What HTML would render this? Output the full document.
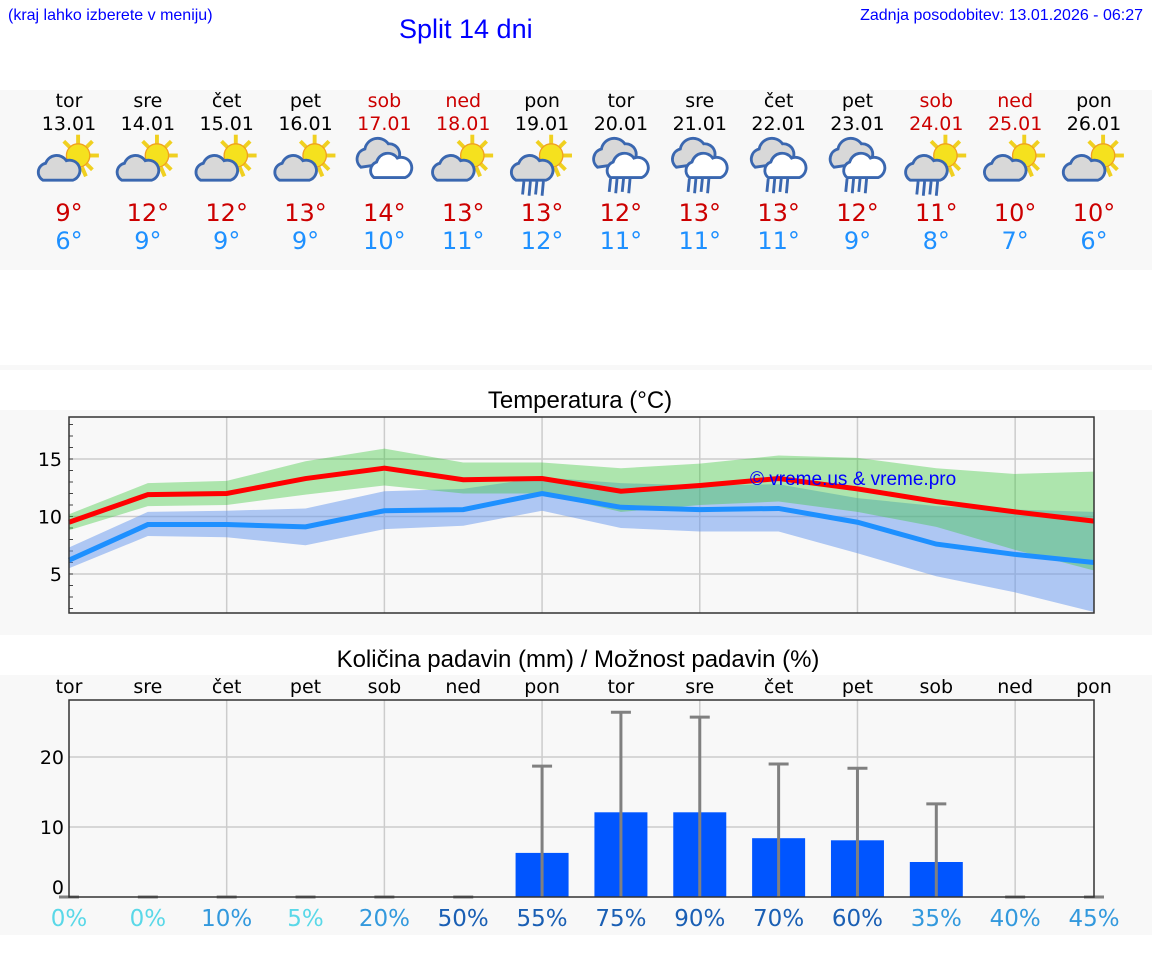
<!DOCTYPE html>
<html><head><meta charset="utf-8">
<style>
body{margin:0;width:1152px;height:975px;background:#fff;font-family:"DejaVu Sans","Liberation Sans",sans-serif;position:relative;overflow:hidden}
.abs{position:absolute}
</style></head>
<body>
<div class="abs" style="left:8px;top:7px;font-size:16px;color:#0000ff;font-family:'Liberation Sans',sans-serif">(kraj lahko izberete v meniju)</div>
<div class="abs" style="left:399px;top:14px;font-size:27px;color:#0000ff;font-family:'Liberation Sans',sans-serif">Split 14 dni</div>
<div class="abs" style="right:9px;top:7px;font-size:16px;color:#0000ff;font-family:'Liberation Sans',sans-serif">Zadnja posodobitev: 13.01.2026 - 06:27</div>
<svg id="main" class="abs" style="left:0;top:0" width="1152" height="975">
<defs>
<g id="sun"><g stroke="#f0d020" stroke-width="3"><line x1="0" y1="-16" x2="0" y2="-9"/><line x1="11" y1="-11" x2="6" y2="-6"/><line x1="16" y1="0" x2="9" y2="0"/><line x1="11" y1="11" x2="6" y2="6"/><line x1="-11" y1="-11" x2="-6" y2="-6"/><line x1="-6" y1="16" x2="-3" y2="9"/><line x1="6" y1="16" x2="3" y2="9"/></g><circle r="9" fill="#f5e11e" stroke="#f0a020" stroke-width="1"/></g>
<g id="cloud"><path d="M-14,8 a7,7 0 0 1 2,-13 a9,9 0 0 1 16,-2 a7,7 0 0 1 5,15 z" fill="#d8d8d8" stroke="#3a67b0" stroke-width="2.2"/></g>
<g id="cloud2"><path d="M-20,4 a8,8 0 0 1 3,-14 a10,10 0 0 1 18,-4 a8,8 0 0 1 6,14 z" fill="#d8d8d8" stroke="#3a67b0" stroke-width="2.2"/><path d="M-10,12 a7,7 0 0 1 2,-12 a9,9 0 0 1 16,-3 a7,7 0 0 1 6,15 z" fill="#fff" stroke="#3a67b0" stroke-width="2.2"/></g>
<g id="rain" stroke="#3a67b0" stroke-width="2.2"><line x1="-8" y1="0" x2="-9" y2="10"/><line x1="-3" y1="0" x2="-4" y2="11"/><line x1="2" y1="0" x2="1" y2="10"/><line x1="7" y1="0" x2="6" y2="11"/></g>
</defs>
<rect x="0" y="90" width="1152" height="180" fill="#f8f8f8"/>
<rect x="0" y="365" width="1152" height="5" fill="#f8f8f8"/>
<rect x="0" y="410" width="1152" height="225" fill="#f8f8f8"/>
<rect x="0" y="675" width="1152" height="260" fill="#f8f8f8"/>
<g id="daily"></g>
<text x="580" y="408" text-anchor="middle" font-size="24" font-family="Liberation Sans,sans-serif">Temperatura (°C)</text>
<g id="temp"></g>
<text x="578" y="667" text-anchor="middle" font-size="24" font-family="Liberation Sans,sans-serif">Količina padavin (mm) / Možnost padavin (%)</text>
<g id="precip"></g>
</svg>
<script>
const dayNames=["tor","sre","čet","pet","sob","ned","pon","tor","sre","čet","pet","sob","ned","pon"];
const dates=["13.01","14.01","15.01","16.01","17.01","18.01","19.01","20.01","21.01","22.01","23.01","24.01","25.01","26.01"];
const weekend=[0,0,0,0,1,1,0,0,0,0,0,1,1,0];
const icons=["sc","sc","sc","sc","cc","sc","scr","ccr","ccr","ccr","ccr","scr","sc","sc"];
const maxT=[9,12,12,13,14,13,13,12,13,13,12,11,10,10];
const minT=[6,9,9,9,10,11,12,11,11,11,9,8,7,6];
const maxLine=[9.5,11.9,12.0,13.3,14.2,13.2,13.3,12.2,12.7,13.3,12.4,11.3,10.4,9.6];
const maxHi=[10.2,12.9,13.1,14.8,15.9,14.7,14.7,14.2,14.6,15.3,15.1,14.2,13.7,13.9];
const maxLo=[8.8,10.9,11.0,11.9,12.7,12.0,12.0,10.4,11.0,11.3,10.4,9.1,7.1,5.3];
const minLine=[6.2,9.3,9.3,9.1,10.5,10.6,12.0,10.8,10.6,10.7,9.5,7.6,6.7,6.0];
const minHi=[7.3,10.4,10.5,10.7,12.2,12.4,13.4,12.9,12.7,12.8,11.6,10.9,10.6,10.4];
const minLo=[5.5,8.3,8.2,7.5,8.9,9.2,10.5,9.0,8.7,8.7,6.8,4.8,3.4,1.7];
const tempTicks=[5,10,15];
const precip=[0,0,0,0,0,0,6.3,12.1,12.1,8.4,8.1,5.0,0,0];
const precipMax=[0,0,0,0,0,0,18.7,26.4,25.7,19.0,18.4,13.3,0,0];
const prob=[0,0,10,5,20,50,55,75,90,70,60,35,40,45];
const precipTicks=[0,10,20];
const NS="http://www.w3.org/2000/svg";
function mk(p,tag,at,txt){const e=document.createElementNS(NS,tag);for(const k in at)e.setAttribute(k,at[k]);if(txt!==undefined)e.textContent=txt;p.appendChild(e);return e;}
const X0=69,X1=1094;
const xd=i=>X0+i*(X1-X0)/13;
const D=document.getElementById('daily');
dayNames.forEach((d,i)=>{
 const x=xd(i),c=weekend[i]?"#cc0000":"#000";
 let t=mk(D,'text',{x:x,y:107,'text-anchor':'middle','font-size':19,fill:c},d);
 
 t=mk(D,'text',{x:x,y:130,'text-anchor':'middle','font-size':19,fill:c},dates[i]);
 
 const g=mk(D,'g',{transform:`translate(${x},162) scale(1.3)`});
 
 const ic=icons[i];
 if(ic[0]=='s'){mk(g,'use',{href:'#sun',x:7,y:-5});mk(g,'use',{href:'#cloud',x:-6,y:6});}
 else mk(g,'use',{href:'#cloud2',x:2,y:0});
 if(ic.endsWith('r'))mk(g,'use',{href:'#rain',x:ic[0]=='s'?-6:0,y:ic[0]=='s'?15:13});
 t=mk(D,'text',{x:x,y:221,'text-anchor':'middle','font-size':24,fill:'#cc0000'},maxT[i]+"°");
 
 t=mk(D,'text',{x:x,y:249,'text-anchor':'middle','font-size':24,fill:'#1e90ff'},minT[i]+"°");
 
});
const T=document.getElementById('temp');
const TY0=417,TY1=613;const ty=v=>574-(v-5)*11.5;
[2,4,6,8,10,12].forEach(i=>mk(T,'line',{x1:xd(i),x2:xd(i),y1:TY0,y2:TY1,stroke:'#ccc','stroke-width':1.5}));
tempTicks.forEach(v=>{mk(T,'line',{x1:X0,x2:X1,y1:ty(v),y2:ty(v),stroke:'#ccc','stroke-width':1.5});
 const t=mk(T,'text',{x:62,y:ty(v)+7,'text-anchor':'end','font-size':19},v);
 });
for(let v=2;v<=18;v++)mk(T,'line',{x1:X0,x2:X0+4,y1:ty(v),y2:ty(v),stroke:'#444','stroke-width':1});
function band(hi,lo,fill,name){let d=hi.map((v,i)=>(i?'L':'M')+xd(i)+','+ty(v)).join('');
 for(let i=lo.length-1;i>=0;i--)d+='L'+xd(i)+','+ty(lo[i]);
 const p=mk(T,'path',{d:d+'Z',fill:fill});}
band(minHi,minLo,'rgba(100,149,237,0.5)','min-temp-band');
band(maxHi,maxLo,'rgba(60,200,60,0.4)','max-temp-band');
function line(a,c,name){const p=mk(T,'polyline',{points:a.map((v,i)=>xd(i)+','+ty(v)).join(' '),fill:'none',stroke:c,'stroke-width':5});
 }
line(minLine,'#1e90ff','min-temp-line');line(maxLine,'#ff0000','max-temp-line');
let wm=mk(T,'text',{x:750,y:485,'font-size':19,fill:'#0000ff','font-family':'Liberation Sans,sans-serif'},'© vreme.us & vreme.pro');

mk(T,'rect',{x:X0,y:TY0,width:X1-X0,height:TY1-TY0,fill:'none',stroke:'#333','stroke-width':1.5});
const P=document.getElementById('precip');
const PY0=700,PY1=897;const py=v=>897-v*7;
[2,4,6,8,10,12].forEach(i=>mk(P,'line',{x1:xd(i),x2:xd(i),y1:PY0,y2:PY1,stroke:'#ccc','stroke-width':1.5}));
precipTicks.forEach(v=>{if(v>0)mk(P,'line',{x1:X0,x2:X1,y1:py(v),y2:py(v),stroke:'#ccc','stroke-width':1.5});
 const t=mk(P,'text',{x:64,y:py(v)+(v==0?-3:7),'text-anchor':'end','font-size':19},v);
 });
dayNames.forEach((d,i)=>{const t=mk(P,'text',{x:xd(i),y:693,'text-anchor':'middle','font-size':19},d);
 });
precip.forEach((v,i)=>{const x=xd(i);
 if(v>0){const r=mk(P,'rect',{x:x-26.5,y:py(v),width:53,height:py(0)-py(v),fill:'#0055ff'});
 }
 const g=mk(P,'g',{stroke:'#808080','stroke-width':3});
 
 mk(g,'line',{x1:x,x2:x,y1:py(precipMax[i]),y2:py(0)});
 mk(g,'line',{x1:x-10,x2:x+10,y1:py(precipMax[i]),y2:py(precipMax[i])});
});
mk(P,'rect',{x:X0,y:PY0,width:X1-X0,height:PY1-PY0,fill:'none',stroke:'#333','stroke-width':1.5});
prob.forEach((p,i)=>{let c=(p<10||p==5)?'#5ad8e8':p>=50?'#1a5fb4':'#3399dd';
 const t=mk(P,'text',{x:xd(i),y:926,'text-anchor':'middle','font-size':23,fill:c},p+'%');
 });
</script>
</body></html>
